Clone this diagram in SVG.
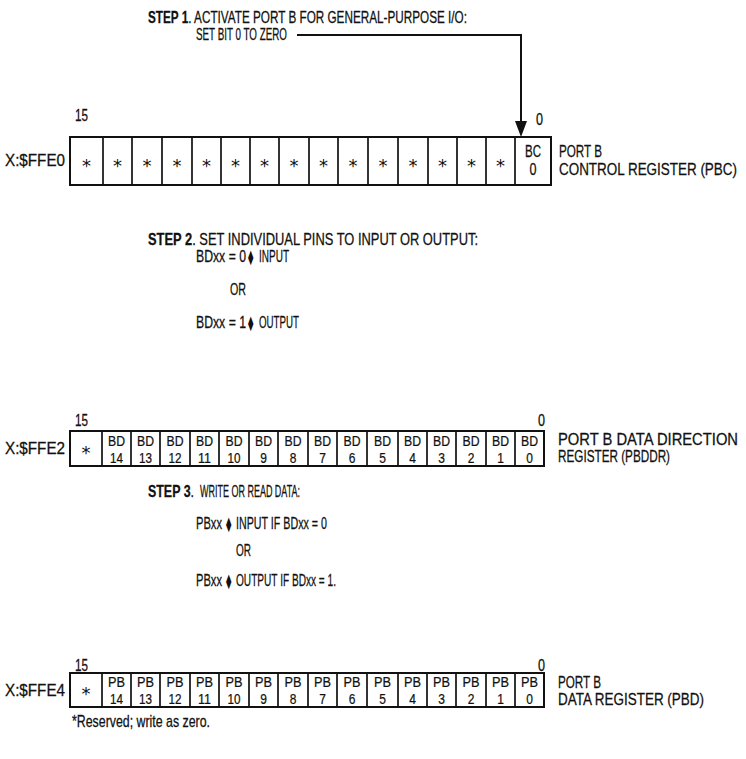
<svg xmlns="http://www.w3.org/2000/svg" width="746" height="759" viewBox="0 0 746 759">
<style>
.t{font-family:"Liberation Sans","DejaVu Sans",sans-serif;font-size:12px;fill:#111;stroke:#111;stroke-width:0.2}
.c{text-anchor:middle}
.dj{font-family:"DejaVu Sans",sans-serif;font-size:11px;fill:#111}
.st{text-anchor:middle;font-family:"DejaVu Sans",sans-serif;font-size:18px;fill:#111}
.box{fill:#fff;stroke:#111;stroke-width:2}
.dv{stroke:#111;stroke-width:1.7}
.ln{stroke:#111;stroke-width:2;fill:none}
</style>
<rect width="746" height="759" fill="#fff"/>

<g id="step1">
<text class="t" transform="translate(148,23) scale(1,1.35)" textLength="319" lengthAdjust="spacingAndGlyphs"><tspan font-weight="bold">STEP 1</tspan>. ACTIVATE PORT B FOR GENERAL-PURPOSE I/O:</text>
<text class="t" transform="translate(196,40) scale(1,1.35)" textLength="91" lengthAdjust="spacingAndGlyphs">SET BIT 0 TO ZERO</text>
</g>

<g id="connectors">
<path class="ln" d="M297,35 H521 V122"/>
<polygon points="515,121 527,121 521,137" fill="#111"/>
</g>

<g id="reg-pbc">
<text class="t" transform="translate(75,121) scale(1,1.35)" textLength="13" lengthAdjust="spacingAndGlyphs">15</text>
<text class="t" transform="translate(536,125) scale(1,1.35)" textLength="7" lengthAdjust="spacingAndGlyphs">0</text>
<text class="t" transform="translate(5,166) scale(1,1.35)" textLength="60" lengthAdjust="spacingAndGlyphs">X:$FFE0</text>
<rect class="box" x="70" y="137" width="481" height="48"/>
<path class="dv" d="M103,137V185M132,137V185M162,137V185M192,137V185M221,137V185M250,137V185M279,137V185M309,137V185M338,137V185M368,137V185M398,137V185M428,137V185M457,137V185M486,137V185M515,137V185"/>
<g class="st">
<text x="86.5" y="172">*</text><text x="117.5" y="172">*</text><text x="147" y="172">*</text><text x="177" y="172">*</text><text x="206.5" y="172">*</text><text x="235.5" y="172">*</text><text x="264.5" y="172">*</text><text x="294" y="172">*</text><text x="323.5" y="172">*</text><text x="353" y="172">*</text><text x="383" y="172">*</text><text x="413" y="172">*</text><text x="442.5" y="172">*</text><text x="471.5" y="172">*</text><text x="500.5" y="172">*</text>
</g>
<text class="t c" transform="translate(533,157) scale(1,1.3)" textLength="16" lengthAdjust="spacingAndGlyphs">BC</text>
<text class="t c" transform="translate(533,175) scale(1,1.3)" textLength="7" lengthAdjust="spacingAndGlyphs">0</text>
<text class="t" transform="translate(559,157) scale(1,1.3)" textLength="43" lengthAdjust="spacingAndGlyphs">PORT B</text>
<text class="t" transform="translate(559,175) scale(1,1.3)" textLength="178" lengthAdjust="spacingAndGlyphs">CONTROL REGISTER (PBC)</text>
</g>

<g id="step2">
<text class="t" transform="translate(148,245) scale(1,1.35)" textLength="330" lengthAdjust="spacingAndGlyphs"><tspan font-weight="bold">STEP 2</tspan>. SET INDIVIDUAL PINS TO INPUT OR OUTPUT:</text>
<text class="t" transform="translate(196,262) scale(1,1.35)" textLength="50" lengthAdjust="spacingAndGlyphs">BDxx = 0</text>
<text class="dj" transform="translate(248,262) scale(1,1.3)">⧫</text>
<text class="t" transform="translate(259,262) scale(1,1.35)" textLength="30" lengthAdjust="spacingAndGlyphs">INPUT</text>
<text class="t" transform="translate(230,295) scale(1,1.35)" textLength="16" lengthAdjust="spacingAndGlyphs">OR</text>
<text class="t" transform="translate(196,328) scale(1,1.35)" textLength="50" lengthAdjust="spacingAndGlyphs">BDxx = 1</text>
<text class="dj" transform="translate(248,328) scale(1,1.3)">⧫</text>
<text class="t" transform="translate(259,328) scale(1,1.35)" textLength="40" lengthAdjust="spacingAndGlyphs">OUTPUT</text>
</g>

<g id="reg-pbddr">
<text class="t" transform="translate(75,426) scale(1,1.35)" textLength="13" lengthAdjust="spacingAndGlyphs">15</text>
<text class="t" transform="translate(538,426) scale(1,1.35)" textLength="7" lengthAdjust="spacingAndGlyphs">0</text>
<text class="t" transform="translate(5,454) scale(1,1.35)" textLength="60" lengthAdjust="spacingAndGlyphs">X:$FFE2</text>
<rect class="box" x="70" y="431" width="474" height="35"/>
<path class="dv" d="M102,431V466M131,431V466M160,431V466M190,431V466M219,431V466M249,431V466M278,431V466M308,431V466M337,431V466M367,431V466M398,431V466M427,431V466M456,431V466M486,431V466M515,431V466"/>
<text class="st" x="86" y="459">*</text>
<g class="t c">
<text transform="translate(116.5,446) scale(1,1.2)" textLength="17" lengthAdjust="spacingAndGlyphs">BD</text><text transform="translate(145.5,446) scale(1,1.2)" textLength="17" lengthAdjust="spacingAndGlyphs">BD</text><text transform="translate(175,446) scale(1,1.2)" textLength="17" lengthAdjust="spacingAndGlyphs">BD</text><text transform="translate(204.5,446) scale(1,1.2)" textLength="17" lengthAdjust="spacingAndGlyphs">BD</text><text transform="translate(234,446) scale(1,1.2)" textLength="17" lengthAdjust="spacingAndGlyphs">BD</text><text transform="translate(263.5,446) scale(1,1.2)" textLength="17" lengthAdjust="spacingAndGlyphs">BD</text><text transform="translate(293,446) scale(1,1.2)" textLength="17" lengthAdjust="spacingAndGlyphs">BD</text><text transform="translate(322.5,446) scale(1,1.2)" textLength="17" lengthAdjust="spacingAndGlyphs">BD</text><text transform="translate(352,446) scale(1,1.2)" textLength="17" lengthAdjust="spacingAndGlyphs">BD</text><text transform="translate(382.5,446) scale(1,1.2)" textLength="17" lengthAdjust="spacingAndGlyphs">BD</text><text transform="translate(412.5,446) scale(1,1.2)" textLength="17" lengthAdjust="spacingAndGlyphs">BD</text><text transform="translate(441.5,446) scale(1,1.2)" textLength="17" lengthAdjust="spacingAndGlyphs">BD</text><text transform="translate(471,446) scale(1,1.2)" textLength="17" lengthAdjust="spacingAndGlyphs">BD</text><text transform="translate(500.5,446) scale(1,1.2)" textLength="17" lengthAdjust="spacingAndGlyphs">BD</text><text transform="translate(529.5,446) scale(1,1.2)" textLength="17" lengthAdjust="spacingAndGlyphs">BD</text>
<text transform="translate(116.5,463) scale(1,1.2)" textLength="13" lengthAdjust="spacingAndGlyphs">14</text><text transform="translate(145.5,463) scale(1,1.2)" textLength="13" lengthAdjust="spacingAndGlyphs">13</text><text transform="translate(175,463) scale(1,1.2)" textLength="13" lengthAdjust="spacingAndGlyphs">12</text><text transform="translate(204.5,463) scale(1,1.2)" textLength="13" lengthAdjust="spacingAndGlyphs">11</text><text transform="translate(234,463) scale(1,1.2)" textLength="13" lengthAdjust="spacingAndGlyphs">10</text><text transform="translate(263.5,463) scale(1,1.2)">9</text><text transform="translate(293,463) scale(1,1.2)">8</text><text transform="translate(322.5,463) scale(1,1.2)">7</text><text transform="translate(352,463) scale(1,1.2)">6</text><text transform="translate(382.5,463) scale(1,1.2)">5</text><text transform="translate(412.5,463) scale(1,1.2)">4</text><text transform="translate(441.5,463) scale(1,1.2)">3</text><text transform="translate(471,463) scale(1,1.2)">2</text><text transform="translate(500.5,463) scale(1,1.2)">1</text><text transform="translate(529.5,463) scale(1,1.2)">0</text>
</g>
<text class="t" transform="translate(558,445) scale(1,1.3)" textLength="180" lengthAdjust="spacingAndGlyphs">PORT B DATA DIRECTION</text>
<text class="t" transform="translate(558,462) scale(1,1.3)" textLength="112" lengthAdjust="spacingAndGlyphs">REGISTER (PBDDR)</text>
</g>

<g id="step3">
<text class="t" transform="translate(148,497) scale(1,1.35)" textLength="46" lengthAdjust="spacingAndGlyphs"><tspan font-weight="bold">STEP 3</tspan>.</text>
<text class="t" transform="translate(200,497) scale(1,1.35)" textLength="100" lengthAdjust="spacingAndGlyphs">WRITE OR READ DATA:</text>
<text class="t" transform="translate(196,529) scale(1,1.35)" textLength="26" lengthAdjust="spacingAndGlyphs">PBxx</text>
<text class="dj" transform="translate(226,529) scale(1,1.3)">⧫</text>
<text class="t" transform="translate(236,529) scale(1,1.35)" textLength="91" lengthAdjust="spacingAndGlyphs">INPUT IF BDxx = 0</text>
<text class="t" transform="translate(236,556) scale(1,1.35)" textLength="15" lengthAdjust="spacingAndGlyphs">OR</text>
<text class="t" transform="translate(196,586) scale(1,1.35)" textLength="26" lengthAdjust="spacingAndGlyphs">PBxx</text>
<text class="dj" transform="translate(226,586) scale(1,1.3)">⧫</text>
<text class="t" transform="translate(236,586) scale(1,1.35)" textLength="100" lengthAdjust="spacingAndGlyphs">OUTPUT IF BDxx = 1.</text>
</g>

<g id="reg-pbd">
<text class="t" transform="translate(75,671) scale(1,1.35)" textLength="13" lengthAdjust="spacingAndGlyphs">15</text>
<text class="t" transform="translate(538,671) scale(1,1.35)" textLength="7" lengthAdjust="spacingAndGlyphs">0</text>
<text class="t" transform="translate(5,696) scale(1,1.35)" textLength="60" lengthAdjust="spacingAndGlyphs">X:$FFE4</text>
<rect class="box" x="70" y="673" width="474" height="34"/>
<path class="dv" d="M102,673V707M131,673V707M160,673V707M190,673V707M219,673V707M249,673V707M278,673V707M308,673V707M337,673V707M367,673V707M398,673V707M427,673V707M456,673V707M486,673V707M515,673V707"/>
<text class="st" x="86" y="700">*</text>
<g class="t c">
<text transform="translate(116.5,687) scale(1,1.2)" textLength="17" lengthAdjust="spacingAndGlyphs">PB</text><text transform="translate(145.5,687) scale(1,1.2)" textLength="17" lengthAdjust="spacingAndGlyphs">PB</text><text transform="translate(175,687) scale(1,1.2)" textLength="17" lengthAdjust="spacingAndGlyphs">PB</text><text transform="translate(204.5,687) scale(1,1.2)" textLength="17" lengthAdjust="spacingAndGlyphs">PB</text><text transform="translate(234,687) scale(1,1.2)" textLength="17" lengthAdjust="spacingAndGlyphs">PB</text><text transform="translate(263.5,687) scale(1,1.2)" textLength="17" lengthAdjust="spacingAndGlyphs">PB</text><text transform="translate(293,687) scale(1,1.2)" textLength="17" lengthAdjust="spacingAndGlyphs">PB</text><text transform="translate(322.5,687) scale(1,1.2)" textLength="17" lengthAdjust="spacingAndGlyphs">PB</text><text transform="translate(352,687) scale(1,1.2)" textLength="17" lengthAdjust="spacingAndGlyphs">PB</text><text transform="translate(382.5,687) scale(1,1.2)" textLength="17" lengthAdjust="spacingAndGlyphs">PB</text><text transform="translate(412.5,687) scale(1,1.2)" textLength="17" lengthAdjust="spacingAndGlyphs">PB</text><text transform="translate(441.5,687) scale(1,1.2)" textLength="17" lengthAdjust="spacingAndGlyphs">PB</text><text transform="translate(471,687) scale(1,1.2)" textLength="17" lengthAdjust="spacingAndGlyphs">PB</text><text transform="translate(500.5,687) scale(1,1.2)" textLength="17" lengthAdjust="spacingAndGlyphs">PB</text><text transform="translate(529.5,687) scale(1,1.2)" textLength="17" lengthAdjust="spacingAndGlyphs">PB</text>
<text transform="translate(116.5,704) scale(1,1.2)" textLength="13" lengthAdjust="spacingAndGlyphs">14</text><text transform="translate(145.5,704) scale(1,1.2)" textLength="13" lengthAdjust="spacingAndGlyphs">13</text><text transform="translate(175,704) scale(1,1.2)" textLength="13" lengthAdjust="spacingAndGlyphs">12</text><text transform="translate(204.5,704) scale(1,1.2)" textLength="13" lengthAdjust="spacingAndGlyphs">11</text><text transform="translate(234,704) scale(1,1.2)" textLength="13" lengthAdjust="spacingAndGlyphs">10</text><text transform="translate(263.5,704) scale(1,1.2)">9</text><text transform="translate(293,704) scale(1,1.2)">8</text><text transform="translate(322.5,704) scale(1,1.2)">7</text><text transform="translate(352,704) scale(1,1.2)">6</text><text transform="translate(382.5,704) scale(1,1.2)">5</text><text transform="translate(412.5,704) scale(1,1.2)">4</text><text transform="translate(441.5,704) scale(1,1.2)">3</text><text transform="translate(471,704) scale(1,1.2)">2</text><text transform="translate(500.5,704) scale(1,1.2)">1</text><text transform="translate(529.5,704) scale(1,1.2)">0</text>
</g>
<text class="t" transform="translate(558,688) scale(1,1.3)" textLength="43" lengthAdjust="spacingAndGlyphs">PORT B</text>
<text class="t" transform="translate(558,705) scale(1,1.3)" textLength="146" lengthAdjust="spacingAndGlyphs">DATA REGISTER (PBD)</text>
</g>

<g id="footnote">
<text class="t" transform="translate(72,727) scale(1,1.35)" textLength="138" lengthAdjust="spacingAndGlyphs">*Reserved; write as zero.</text>
</g>
</svg>
